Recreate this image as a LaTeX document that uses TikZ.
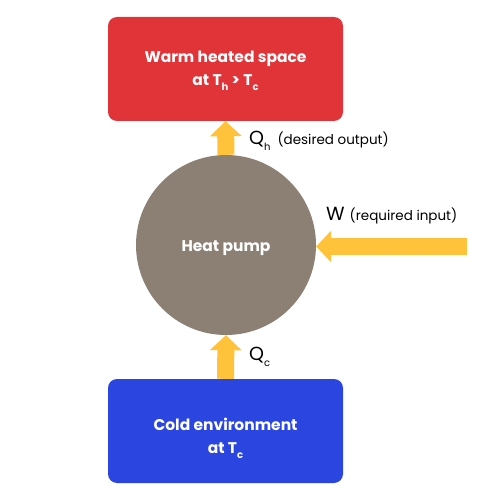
\documentclass[tikz,border=0pt]{standalone}
\usepackage{fontspec}
\setmainfont{Poppins}
\usetikzlibrary{arrows.meta}
\definecolor{warmred}{HTML}{E13438}
\definecolor{coldblue}{HTML}{2B46E0}
\definecolor{pumpgrey}{HTML}{8C7F74}
\definecolor{flowyellow}{HTML}{FFC23A}
\newcommand{\lowsub}[1]{\raisebox{-0.6ex}{\fontsize{10}{10}\selectfont #1}}
\newcommand{\smallnote}[1]{{\fontsize{13.5}{15}\selectfont #1}}
\begin{document}
\begin{tikzpicture}[x=1pt, y=-1pt,
                box/.style={rectangle, rounded corners=9pt, inner sep=0pt, minimum width=235pt,
                  minimum height=104pt},
                boxtext/.style={inner sep=0pt, text=white, align=center,
                  font=\bfseries\fontsize{15.5}{23}\selectfont},
                flow/.style={draw=flowyellow, line width=17pt, -{Triangle[width=31pt,length=15pt]}},
                flowlabel/.style={anchor=west, inner sep=0pt, font=\fontsize{19}{21}\selectfont}]
                \useasboundingbox (0,0) rectangle (501,500);
                \node[box, fill=warmred] (warm) at (225.5,69) {};
                \node[box, fill=coldblue] (cold) at (225.5,431) {};
                \node[circle, fill=pumpgrey, minimum size=180pt, inner sep=0pt] (pump) at (226,245) {};
                \node[boxtext] (warmtext) at (225.5,70.5) {Warm heated space\\at T\lowsub{h} > T\lowsub{c}};
                \node[boxtext] (coldtext) at (225.5,438) {Cold environment\\at T\lowsub{c}};
                \node[boxtext] (pumptext) at (226,248) {Heat pump};
                \coordinate (win) at (467,246.5);
                \draw[flow] (pump.north) -- (warm.south);
                \draw[flow] (cold.north) -- (pump.south);
                \draw[flow] (win) -- (pump.east |- win);
                \node[flowlabel] (qh) at (249,141) {Q\lowsub{h}\hspace{7pt}\smallnote{(desired output)}};
                \node[flowlabel] (w) at (326,216) {W\hspace{5pt}\smallnote{(required input)}};
                \node[flowlabel] (qc) at (249,357) {Q\lowsub{c}};
            \end{tikzpicture}
\end{document}
